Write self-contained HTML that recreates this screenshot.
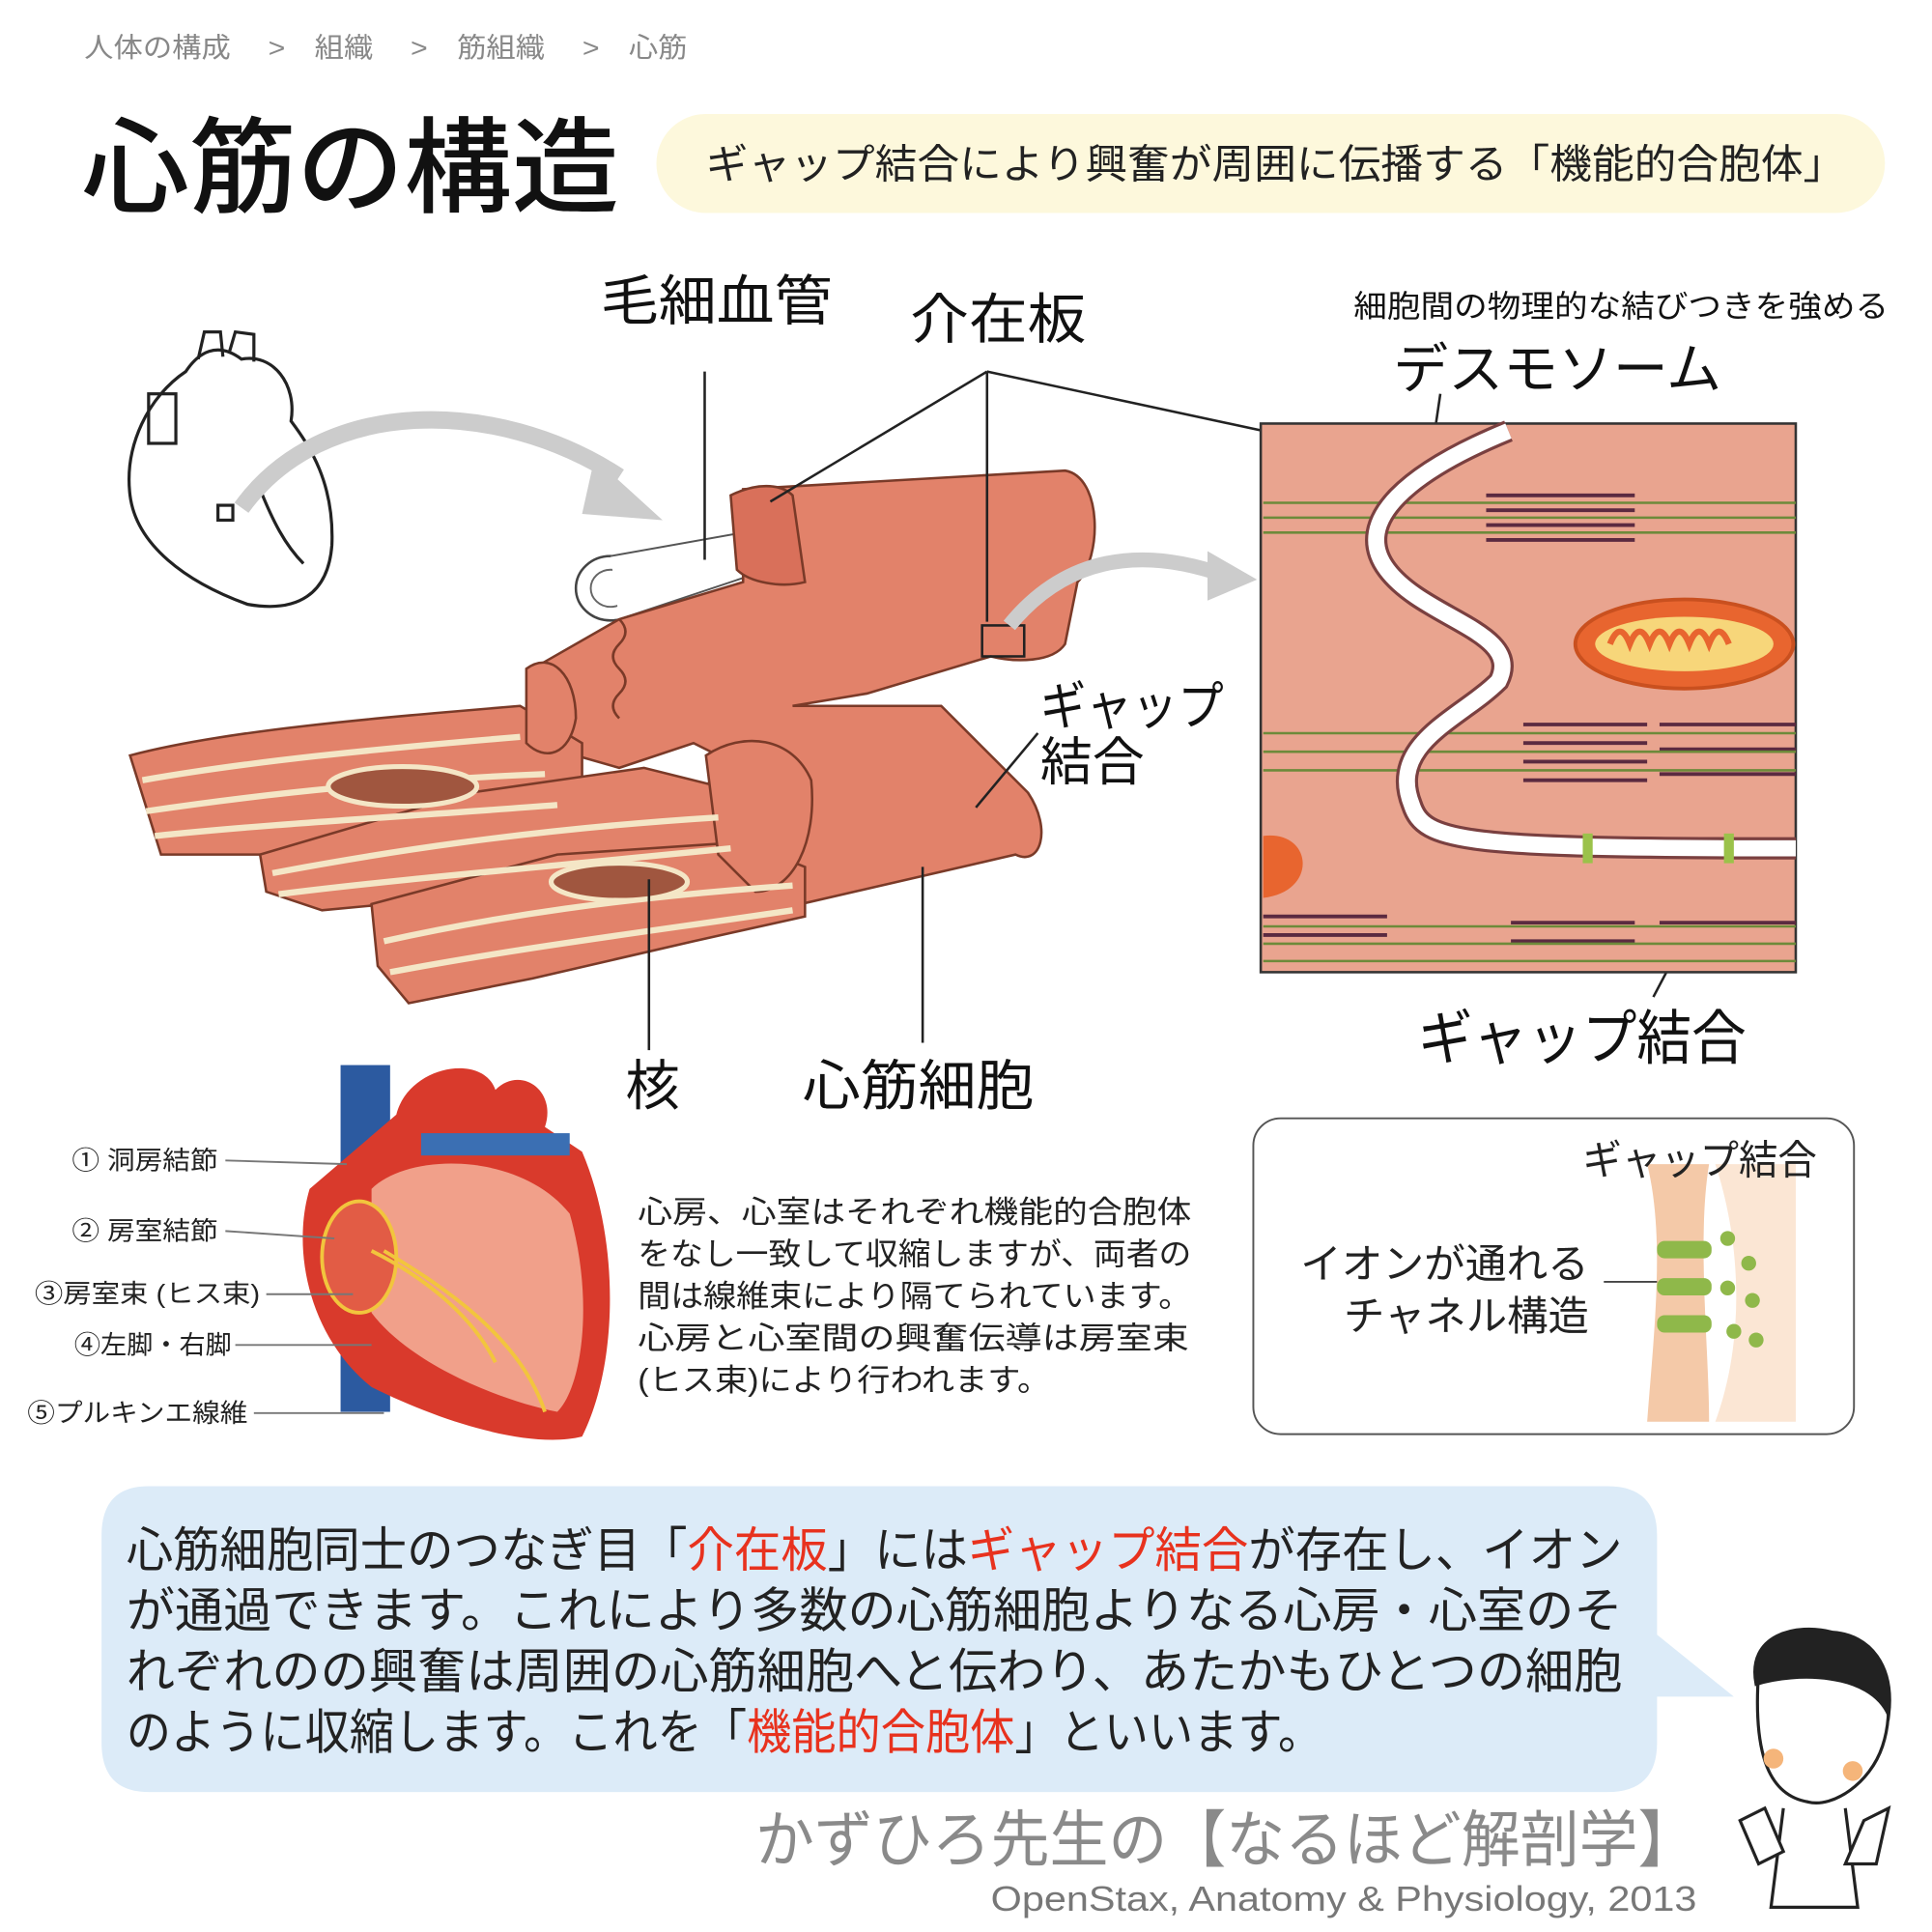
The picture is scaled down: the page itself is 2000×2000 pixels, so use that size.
<!DOCTYPE html>
<html><head><meta charset="utf-8">
<style>
html,body{margin:0;padding:0;background:#fff;}
svg{display:block;}
text{font-family:"Liberation Sans","Noto Sans CJK JP",sans-serif;}
</style></head>
<body>
<svg width="2000" height="2000" viewBox="0 0 1560 1560" xmlns="http://www.w3.org/2000/svg">
<rect width="1560" height="1560" fill="#fff"/>
<text x="68" y="46" font-size="22" fill="#888" textLength="487" lengthAdjust="spacingAndGlyphs">人体の構成　 &gt;　組織　 &gt;　筋組織　 &gt;　心筋</text>
<text x="66" y="165" font-size="84" fill="#111" font-weight="500" textLength="434" lengthAdjust="spacingAndGlyphs">心筋の構造</text>
<rect x="530" y="92" width="992" height="80" rx="40" fill="#fdf8dc"/>
<text x="570" y="144" font-size="33" fill="#222" textLength="920" lengthAdjust="spacingAndGlyphs">ギャップ結合により興奮が周囲に伝播する「機能的合胞体」</text>

<g fill="none" stroke="#222" stroke-width="2.5">
<path d="M150 300 C120 320 100 360 105 400 C110 440 150 470 200 488 C240 495 265 480 268 440 C270 390 250 360 235 340 C240 310 220 285 195 290 C175 275 160 285 150 300Z" fill="#fff"/>
<rect x="120" y="318" width="22" height="40"/>
<path d="M160 290 L165 268 L178 268 L180 288 M185 285 L190 268 L205 270 L205 292"/>
<rect x="176" y="408" width="12" height="12"/>
<path d="M210 395 C220 420 230 440 245 455"/>
</g>
<path d="M195 410 C260 320 400 320 500 385" fill="none" stroke="#ccc" stroke-width="14"/>
<polygon points="480,370 535,420 470,415" fill="#ccc"/>

<ellipse cx="493" cy="475" rx="28" ry="26" fill="#fff" stroke="#444" stroke-width="2"/>
<ellipse cx="493" cy="475" rx="16" ry="15" fill="none" stroke="#666" stroke-width="1.5"/>
<path d="M493 449 L600 430 L605 465 L500 500" fill="#fff" stroke="#555" stroke-width="1.5"/>

<g stroke="#7a3a28" stroke-width="2" fill="#e2826a">
<path d="M600 395 L860 380 C890 385 890 450 870 470 L860 520 C850 535 820 535 800 530 L700 560 L640 570 L760 570 L830 640 C850 670 840 700 820 690 L560 750 C520 760 380 790 340 800 L310 760 L420 700 L600 620 L560 600 L500 620 L430 600 L430 540 L500 500 L600 470 Z"/>
<path d="M105 610 C180 590 300 580 420 570 L470 600 L470 650 L360 680 L220 690 L130 690 Z"/>
<path d="M210 690 L380 640 L520 620 L600 640 L600 700 L420 720 L260 735 L215 720 Z"/>
<path d="M300 730 L450 690 L600 680 L650 700 L650 740 L560 760 L430 790 L330 810 L305 780 Z"/>
<path d="M570 610 C600 590 640 595 655 630 C660 680 640 720 610 720 L580 690 Z"/>
<path d="M425 540 C445 525 465 545 465 580 C460 610 440 615 425 600 Z"/>
<path d="M590 400 C610 390 630 390 640 400 L650 470 C630 475 605 470 595 460 Z" fill="#d9705a"/>
</g>
<g stroke="#f4e6c6" stroke-width="5" fill="none">
<path d="M115 630 C200 615 300 605 420 595"/><path d="M118 655 C220 640 320 630 440 625"/><path d="M125 675 C220 665 320 660 450 650"/>
<path d="M220 705 C300 690 420 670 580 660"/><path d="M225 722 C320 710 440 700 590 685"/>
<path d="M310 760 C400 740 500 725 640 715"/><path d="M315 785 C420 765 540 750 640 735"/>
</g>
<ellipse cx="325" cy="635" rx="60" ry="16" fill="#a0563f" stroke="#f4e6c6" stroke-width="4"/>
<ellipse cx="500" cy="712" rx="55" ry="15" fill="#a0563f" stroke="#f4e6c6" stroke-width="4"/>
<path d="M500 500 q10 10 0 20 q-10 10 0 20 q10 10 0 20 q-10 10 0 20" fill="none" stroke="#7a3a28" stroke-width="2"/>
<rect x="793" y="505" width="34" height="25" fill="none" stroke="#222" stroke-width="2"/>
<path d="M815 505 C860 450 920 440 990 465" fill="none" stroke="#ccc" stroke-width="12"/>
<polygon points="975,445 1015,468 975,485" fill="#ccc"/>

<g stroke="#222" stroke-width="2" fill="none">
<line x1="569" y1="300" x2="569" y2="452"/>
<line x1="797" y1="300" x2="622" y2="405"/>
<line x1="797" y1="300" x2="797" y2="502"/>
<line x1="797" y1="300" x2="1160" y2="378"/>
<line x1="838" y1="592" x2="788" y2="652"/>
<line x1="524" y1="710" x2="524" y2="848"/>
<line x1="745" y1="700" x2="745" y2="842"/>
<line x1="1163" y1="318" x2="1158" y2="352"/>
<line x1="1393" y1="695" x2="1335" y2="805"/>
</g>
<text x="485" y="258" font-size="44" fill="#111" textLength="187" lengthAdjust="spacingAndGlyphs">毛細血管</text>
<text x="735" y="273" font-size="44" fill="#111" textLength="142" lengthAdjust="spacingAndGlyphs">介在板</text>
<text x="1093" y="256" font-size="25" fill="#111" textLength="432" lengthAdjust="spacingAndGlyphs">細胞間の物理的な結びつきを強める</text>
<text x="1125" y="313" font-size="44" fill="#111" textLength="265" lengthAdjust="spacingAndGlyphs">デスモソーム</text>
<text x="840" y="585" font-size="42" fill="#111" textLength="148" lengthAdjust="spacingAndGlyphs">ギャップ</text>
<text x="840" y="630" font-size="42" fill="#111" textLength="84" lengthAdjust="spacingAndGlyphs">結合</text>
<text x="1145" y="855" font-size="48" fill="#111" textLength="265" lengthAdjust="spacingAndGlyphs">ギャップ結合</text>
<text x="527" y="892" font-size="44" text-anchor="middle" fill="#111">核</text>
<text x="648" y="892" font-size="44" fill="#111" textLength="187" lengthAdjust="spacingAndGlyphs">心筋細胞</text>

<rect x="1018" y="342" width="432" height="443" fill="#e9a48f" stroke="#333" stroke-width="2"/>
<g stroke="#5b2a40" stroke-width="3">
<line x1="1200" y1="400" x2="1320" y2="400"/><line x1="1200" y1="412" x2="1320" y2="412"/><line x1="1200" y1="424" x2="1320" y2="424"/><line x1="1200" y1="436" x2="1320" y2="436"/>
<line x1="1230" y1="585" x2="1330" y2="585"/><line x1="1230" y1="600" x2="1330" y2="600"/><line x1="1230" y1="615" x2="1330" y2="615"/><line x1="1230" y1="630" x2="1330" y2="630"/>
<line x1="1340" y1="585" x2="1450" y2="585"/><line x1="1340" y1="605" x2="1450" y2="605"/><line x1="1340" y1="625" x2="1450" y2="625"/>
<line x1="1020" y1="740" x2="1120" y2="740"/><line x1="1020" y1="755" x2="1120" y2="755"/><line x1="1220" y1="745" x2="1320" y2="745"/><line x1="1220" y1="760" x2="1320" y2="760"/><line x1="1340" y1="745" x2="1450" y2="745"/>
</g>
<g stroke="#6d8a3a" stroke-width="2">
<line x1="1020" y1="406" x2="1450" y2="406"/><line x1="1020" y1="418" x2="1450" y2="418"/><line x1="1020" y1="430" x2="1450" y2="430"/>
<line x1="1020" y1="592" x2="1450" y2="592"/><line x1="1020" y1="607" x2="1450" y2="607"/><line x1="1020" y1="622" x2="1450" y2="622"/>
<line x1="1020" y1="748" x2="1450" y2="748"/><line x1="1020" y1="762" x2="1450" y2="762"/><line x1="1020" y1="776" x2="1450" y2="776"/>
</g>
<path d="M1218 348 C1140 380 1090 420 1120 460 C1150 500 1230 510 1210 550 C1180 580 1120 600 1140 650 C1150 680 1180 685 1450 685" fill="none" stroke="#7a4040" stroke-width="18"/>
<path d="M1218 348 C1140 380 1090 420 1120 460 C1150 500 1230 510 1210 550 C1180 580 1120 600 1140 650 C1150 680 1180 685 1450 685" fill="none" stroke="#fff" stroke-width="13"/>
<ellipse cx="1360" cy="520" rx="88" ry="36" fill="#e8652f" stroke="#c9501f" stroke-width="3"/>
<ellipse cx="1360" cy="520" rx="72" ry="22" fill="#f7d67a"/>
<path d="M1300 520 q8 -20 16 0 q8 -20 16 0 q8 -20 16 0 q8 -20 16 0 q8 -20 16 0 q8 -20 16 0" fill="none" stroke="#e8652f" stroke-width="5"/>
<path d="M1020 675 C1060 670 1065 720 1020 725 Z" fill="#e8652f"/>
<rect x="1278" y="673" width="8" height="24" fill="#9bc24a"/><rect x="1392" y="673" width="8" height="24" fill="#9bc24a"/>

<g>
<rect x="275" y="860" width="40" height="280" fill="#2c5aa0"/>
<path d="M320 900 C330 860 390 850 400 880 C420 860 450 880 440 910 L470 930 C500 1000 500 1100 470 1160 C430 1170 360 1150 300 1120 C250 1080 235 1010 250 960 Z" fill="#d93a2c"/>
<path d="M300 960 C330 930 420 930 460 980 C480 1050 470 1120 450 1140 C400 1130 330 1100 300 1060 Z" fill="#f1a08a"/>
<rect x="340" y="915" width="120" height="18" fill="#3b6fb3"/>
<ellipse cx="290" cy="1015" rx="30" ry="45" fill="#e25c45" stroke="#f2c53d" stroke-width="3"/>
<path d="M300 1010 C340 1030 380 1060 400 1100 M310 1010 C360 1040 420 1080 440 1140" fill="none" stroke="#f2c53d" stroke-width="3"/>
</g>
<g font-size="21" fill="#222">
<text x="58" y="944" textLength="118" lengthAdjust="spacingAndGlyphs">① 洞房結節</text>
<text x="58" y="1001" textLength="118" lengthAdjust="spacingAndGlyphs">② 房室結節</text>
<text x="28" y="1052" textLength="182" lengthAdjust="spacingAndGlyphs">③房室束 (ヒス束)</text>
<text x="60" y="1093" textLength="127" lengthAdjust="spacingAndGlyphs">④左脚・右脚</text>
<text x="22" y="1148" textLength="178" lengthAdjust="spacingAndGlyphs">⑤プルキンエ線維</text>
</g>
<g stroke="#777" stroke-width="1.5">
<line x1="182" y1="937" x2="280" y2="940"/><line x1="182" y1="994" x2="270" y2="1000"/><line x1="215" y1="1045" x2="285" y2="1045"/><line x1="190" y1="1086" x2="300" y2="1086"/><line x1="205" y1="1141" x2="310" y2="1141"/>
</g>
<g font-size="25" fill="#222">
<text x="515" y="987" textLength="447" lengthAdjust="spacingAndGlyphs">心房、心室はそれぞれ機能的合胞体</text>
<text x="515" y="1021" textLength="447" lengthAdjust="spacingAndGlyphs">をなし一致して収縮しますが、両者の</text>
<text x="515" y="1055" textLength="447" lengthAdjust="spacingAndGlyphs">間は線維束により隔てられています。</text>
<text x="515" y="1089" textLength="445" lengthAdjust="spacingAndGlyphs">心房と心室間の興奮伝導は房室束</text>
<text x="515" y="1123" textLength="333" lengthAdjust="spacingAndGlyphs">(ヒス束)により行われます。</text>
</g>

<rect x="1012" y="903" width="485" height="255" rx="22" fill="#fff" stroke="#555" stroke-width="1.5"/>
<path d="M1330 940 L1380 940 C1370 1000 1380 1090 1380 1148 L1330 1148 C1335 1080 1345 1000 1330 940Z" fill="#f4c9a8"/>
<path d="M1385 940 L1450 940 L1450 1148 L1385 1148 C1410 1080 1405 1000 1385 940Z" fill="#fbe6d4"/>
<g fill="#8fb84a"><rect x="1338" y="1002" width="44" height="14" rx="6"/><rect x="1338" y="1032" width="44" height="14" rx="6"/><rect x="1338" y="1062" width="44" height="14" rx="6"/>
<circle cx="1395" cy="1000" r="6"/><circle cx="1412" cy="1020" r="6"/><circle cx="1395" cy="1040" r="6"/><circle cx="1415" cy="1050" r="6"/><circle cx="1400" cy="1075" r="6"/><circle cx="1418" cy="1082" r="6"/></g>
<text x="1278" y="948" font-size="33" fill="#222" textLength="189" lengthAdjust="spacingAndGlyphs">ギャップ結合</text>
<text x="1050" y="1032" font-size="33" fill="#222" textLength="233" lengthAdjust="spacingAndGlyphs">イオンが通れる</text>
<text x="1085" y="1074" font-size="33" fill="#222" textLength="198" lengthAdjust="spacingAndGlyphs">チャネル構造</text>
<line x1="1295" y1="1035" x2="1338" y2="1035" stroke="#444" stroke-width="1.5"/>

<path d="M120 1200 L1298 1200 Q1338 1200 1338 1240 L1338 1320 L1400 1370 L1338 1370 L1338 1407 Q1338 1447 1298 1447 L120 1447 Q82 1447 82 1407 L82 1240 Q82 1200 120 1200Z" fill="#dcebf8"/>
<g font-size="39" fill="#222">
<text x="102" y="1265" textLength="1208" lengthAdjust="spacingAndGlyphs">心筋細胞同士のつなぎ目「<tspan fill="#e8321e">介在板</tspan>」には<tspan fill="#e8321e">ギャップ結合</tspan>が存在し、イオン</text>
<text x="102" y="1314" textLength="1208" lengthAdjust="spacingAndGlyphs">が通過できます。これにより多数の心筋細胞よりなる心房・心室のそ</text>
<text x="102" y="1363" textLength="1208" lengthAdjust="spacingAndGlyphs">れぞれのの興奮は周囲の心筋細胞へと伝わり、あたかもひとつの細胞</text>
<text x="102" y="1412" textLength="966" lengthAdjust="spacingAndGlyphs">のように収縮します。これを「<tspan fill="#e8321e">機能的合胞体</tspan>」といいます。</text>
</g>
<text x="610" y="1503" font-size="50" fill="#8a8a8a" textLength="760" lengthAdjust="spacingAndGlyphs">かずひろ先生の【なるほど解剖学】</text>
<text x="800" y="1543" font-size="28" fill="#777" textLength="570" lengthAdjust="spacingAndGlyphs">OpenStax, Anatomy &amp; Physiology, 2013</text>

<g stroke="#222" stroke-width="2.5" fill="#fff">
<path d="M1420 1350 C1420 1320 1470 1310 1500 1325 C1525 1340 1530 1380 1520 1410 C1510 1440 1480 1460 1460 1455 C1430 1450 1415 1420 1420 1350Z"/>
<path d="M1418 1360 C1410 1320 1450 1310 1480 1318 C1510 1320 1530 1345 1525 1385 C1510 1350 1450 1350 1418 1360Z" fill="#222"/>
<path d="M1440 1460 L1430 1540 L1500 1540 L1490 1460"/>
<path d="M1405 1470 L1420 1505 L1440 1495 L1425 1460Z"/><path d="M1505 1470 L1490 1505 L1515 1505 L1525 1460Z"/>
</g>
<circle cx="1432" cy="1420" r="8" fill="#f5b57a"/><circle cx="1496" cy="1430" r="8" fill="#f5b57a"/>
</svg>
</body></html>
